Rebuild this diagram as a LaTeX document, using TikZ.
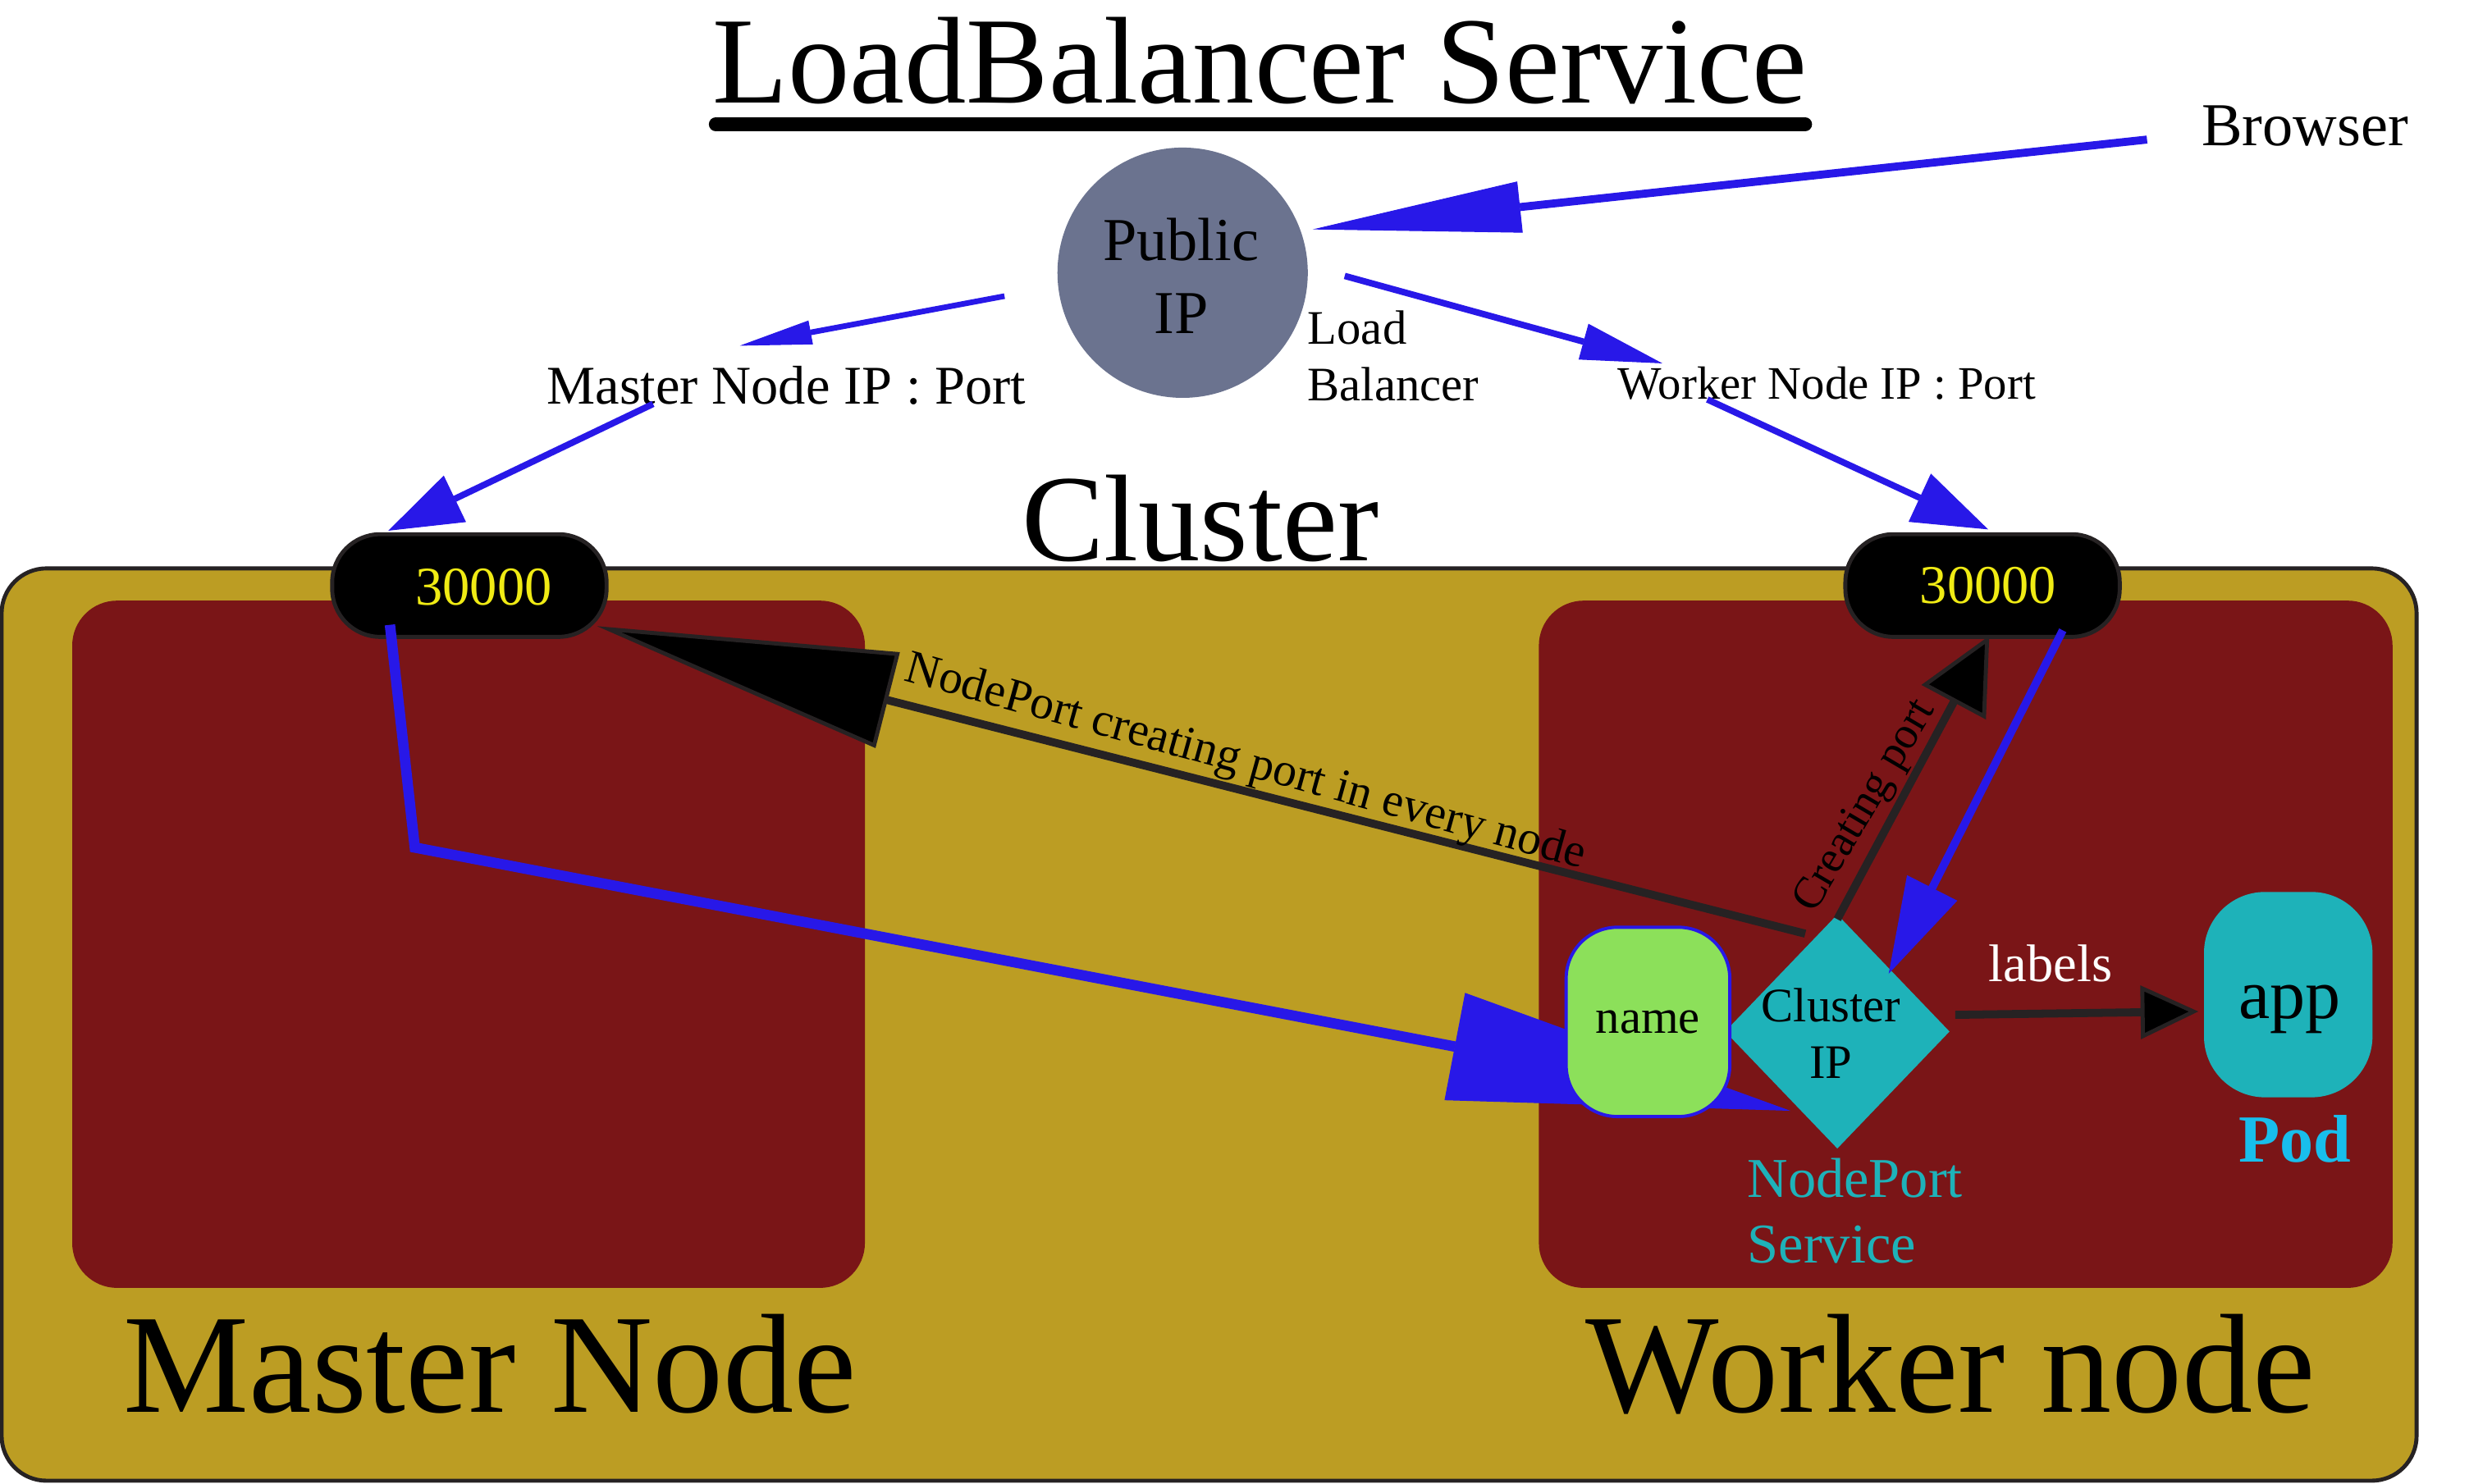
\documentclass[tikz,border=0pt]{standalone}
\usepackage{fontspec}
\setmainfont{Liberation Serif}
\usetikzlibrary{arrows.meta,shapes.geometric}
\definecolor{gold}{RGB}{188,157,35}
\definecolor{dred}{RGB}{122,21,23}
\definecolor{tealc}{RGB}{30,178,185}
\definecolor{lgreen}{RGB}{140,224,90}
\definecolor{lbblue}{RGB}{40,24,232}
\definecolor{pgray}{RGB}{107,115,143}
\definecolor{yel}{RGB}{240,235,20}
\definecolor{podc}{RGB}{24,190,236}
\definecolor{outl}{RGB}{38,34,35}
\newcommand{\myfs}[1]{\fontsize{#1}{#1}\selectfont}
\begin{document}
\begin{tikzpicture}[x=1pt,y=-1pt,
  txt/.style={inner sep=0pt, outer sep=0pt},
  pill/.style={rectangle, rounded corners=30pt, fill=black, draw=outl, line width=2.5pt,
    minimum width=171pt, minimum height=64pt, inner sep=0pt},
  ptxt/.style={txt, text=yel, font=\myfs{34}},
  bline/.style={draw=lbblue, line width=#1},
  kline/.style={draw=outl, line width=#1},
  nodebox/.style={fill=dred, rounded corners=28pt}
]
\useasboundingbox (0,0) rectangle (1553,925);
% cluster and node areas
\draw[line width=2.5pt, draw=outl, fill=gold, rounded corners=28pt] (1,354.3) rectangle (1506,923);
\fill[nodebox] (45,374.4) rectangle (539,802.8);
\fill[nodebox] (959,374.4) rectangle (1491,802.8);
% title
\node[txt, font=\myfs{77}, anchor=base] (title) at (785,64) {LoadBalancer Service};
\draw[line width=8.5pt, line cap=round, draw=black] (446,77.5) -- (1125,77.5);
\node[txt, font=\myfs{38}, anchor=base west] (browser) at (1372,91) {Browser};
% public IP
\node[circle, fill=pgray, minimum size=156pt, inner sep=0pt] (pip) at (737,170) {};
\node[txt, align=center, font=\fontsize{38}{45.6}\selectfont, anchor=north] (piptxt) at (736,135.8) {Public\\IP};
\node[txt, align=left, font=\fontsize{30}{35.7}\selectfont, anchor=north west] (lb) at (815,193.5) {Load\\Balancer};
\node[txt, font=\myfs{34}, anchor=base] (mip) at (490,251.8) {Master Node IP : Port};
\node[txt, font=\myfs{29}, anchor=base] (wip) at (1138.5,249) {Worker Node IP : Port};
\node[txt, font=\myfs{77}, anchor=base] (cl) at (748,349.6) {Cluster};
\node[txt, font=\myfs{88}, anchor=base] (mn) at (305.5,880.4) {Master Node};
\node[txt, font=\myfs{88}, anchor=base] (wn) at (1215.5,880.4) {Worker node};
% ports
\node[pill] (p1) at (292.5,365) {};
\node[ptxt] (p1txt) at (301.5,366) {30000};
\node[pill] (p2) at (1235.5,365) {};
\node[ptxt] (p2txt) at (1239,365) {30000};
% cluster IP diamond
\node[diamond, fill=tealc, minimum width=140pt, minimum height=146pt, inner sep=0pt] (cip) at (1145,643) {};
% arrow end points
\coordinate (brs) at (1338,87);
\coordinate (brt) at (818,143);
\coordinate (ms) at (626,184.6);
\coordinate (mt) at (461,215.5);
\coordinate (ws) at (838,172);
\coordinate (wt) at (1036,226.5);
\coordinate (m2s) at (407,251.8);
\coordinate (m2t) at (242,330.8);
\coordinate (w2s) at (1064,249);
\coordinate (w2t) at (1239,330);
\coordinate (nps) at (1125,582);
\coordinate (npt) at (372,390.3);
\coordinate (cps) at (1145,573);
\coordinate (cpt) at (1239.7,396.3);
\coordinate (p2s) at (1285.5,392.9);
\coordinate (p2t) at (1177,607);
\coordinate (p1s) at (243,389.5);
\coordinate (p1m) at (258.5,528.3);
\coordinate (p1t) at (1115.8,692.4);
\coordinate (lbs) at (1218.5,632.6);
\coordinate (lbt) at (1370,630.5);
% blue arrows
\draw[bline=5pt, -{Triangle[length=130pt,width=32pt,line width=0.5pt]}] (brs) -- (brt);
\draw[bline=3.5pt, -{Triangle[length=45pt,width=15pt,line width=0.5pt]}] (ms) -- (mt);
\draw[bline=4pt, -{Triangle[length=51pt,width=23pt,line width=0.5pt]}] (ws) -- (wt);
\draw[bline=4pt, -{Triangle[length=46pt,width=32pt,line width=0.5pt]}] (m2s) -- (m2t);
\draw[bline=4pt, -{Triangle[length=47pt,width=33pt,line width=0.5pt]}] (w2s) -- (w2t);
\draw[bline=5pt, -{Triangle[length=60pt,width=35pt,line width=0.5pt]}] (p2s) -- (p2t);
\draw[bline=6.5pt, -{Triangle[length=213pt,width=68pt,line width=0.5pt]}] (p1s) -- (p1m) -- (p1t);
% black arrows
\draw[kline=5pt, -{Triangle[length=187pt,width=61pt,fill=black,line width=2.5pt]}] (nps) -- (npt);
\draw[kline=5pt, -{Triangle[length=47pt,width=45pt,fill=black,line width=2.5pt]}] (cps) -- (cpt);
\draw[kline=5pt, -{Triangle[length=36pt,width=33pt,fill=black,line width=2.5pt]}] (lbs) -- (lbt);
% name box
\node[rectangle, rounded corners=32pt, fill=lgreen, draw=lbblue, line width=2pt,
  minimum width=102pt, minimum height=118pt, font=\myfs{30}] (name) at (1027,637) {name};
% texts on the diamond and around
\node[txt, align=center, font=\fontsize{30}{35.2}\selectfont, anchor=north] (ciptxt) at (1141,616) {Cluster\\IP};
\node[txt, font=\myfs{29.5}, rotate=-15.5, anchor=center] (nplab) at (776,476) {NodePort creating port in every node};
\node[txt, font=\myfs{28}, rotate=59.5, anchor=center] (cplab) at (1163,503) {Creating port};
\node[txt, font=\myfs{33}, text=white, anchor=base] (lblab) at (1278,612) {labels};
% app pod
\node[rectangle, rounded corners=38pt, fill=tealc, minimum width=105pt, minimum height=128pt] (app) at (1426,620) {};
\node[txt, font=\myfs{44}, anchor=base] (apptxt) at (1427,634.6) {app};
\node[txt, font=\bfseries\myfs{42}, text=podc, anchor=base] (pod) at (1430,724.4) {Pod};
\node[txt, align=left, text=tealc, font=\fontsize{35}{41}\selectfont, anchor=north west] (nstxt) at (1089,722) {NodePort\\Service};
\end{tikzpicture}
\end{document}
